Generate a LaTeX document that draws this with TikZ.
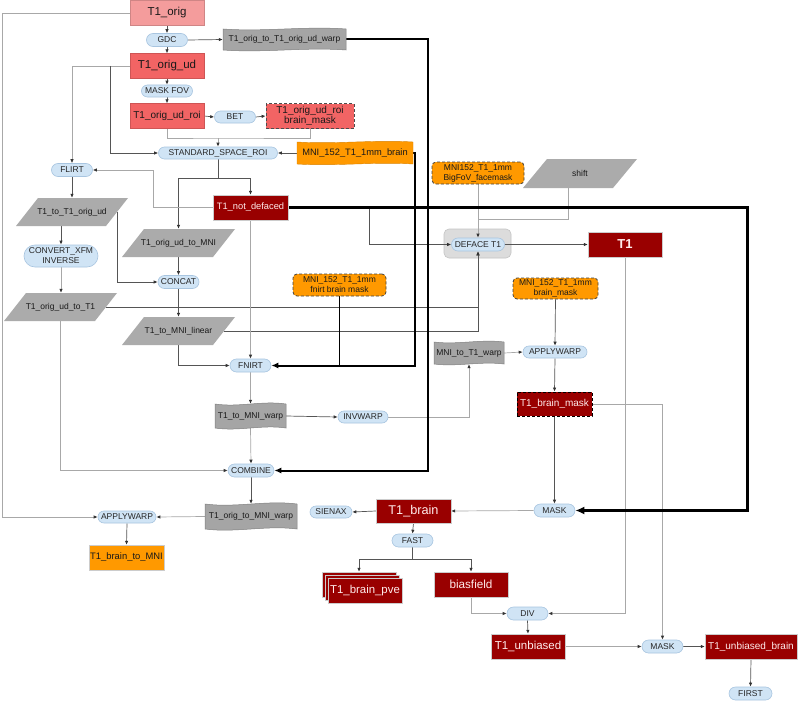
\documentclass[tikz,border=0pt]{standalone}
\usepackage{fontspec}
\setmainfont{Liberation Sans}
\usetikzlibrary{arrows.meta,shapes.misc,calc}
\definecolor{lred}{HTML}{F49C9C}
\definecolor{mred}{HTML}{F26464}
\definecolor{dred}{HTML}{990000}
\definecolor{orng}{HTML}{FF9900}
\definecolor{pgray}{HTML}{ABABAB}
\definecolor{tgray}{HTML}{A5A5A5}
\definecolor{tborder}{HTML}{808080}
\definecolor{pillfill}{HTML}{D0E4F5}
\definecolor{pillborder}{HTML}{A8C5E0}
\definecolor{lightline}{HTML}{A8A8A8}
\definecolor{darkline}{HTML}{555555}
\definecolor{boxfill}{HTML}{DCDCDC}
\definecolor{boxborder}{HTML}{C4C4C4}
\pgfdeclarelayer{bg}\pgfdeclarelayer{lines}\pgfsetlayers{bg,lines,main}
\newcommand\fsz[2]{\fontsize{#1}{#2}\selectfont}
\tikzset{
 txt/.style={inner sep=0pt, font=\fsz{8.5}{10}, align=center, text=black!90},
 pill/.style={rounded rectangle, fill=pillfill, draw=pillborder, line width=0.6pt, inner sep=0pt, minimum height=13, align=center, font=\fsz{8.5}{10}, text=black!85},
 box/.style={rectangle, inner sep=0pt, minimum width=74, minimum height=25, align=center, draw=black!20, line width=0.4pt},
 redA/.style={box, fill=lred, draw=lred!85!black, text=black!90},
 redB/.style={box, fill=mred, draw=mred!85!black, text=black!90},
 redC/.style={box, fill=dred, text=white!92!red},
 orbox/.style={box, fill=orng, text=black!90},
 dashbox/.style={rectangle, rounded corners=4pt, fill=orng, draw=black!75, dash pattern=on 3pt off 2pt, line width=0.8pt, inner sep=0pt, align=center, font=\fsz{8.5}{10}, text=black!90},
 lt/.style={draw=lightline, line width=0.7pt},
 dk/.style={draw=darkline, line width=0.7pt},
 arr/.style={-{Latex[length=4pt,width=3.4pt,color=black!80]}},
 thk/.style={draw=black, line width=2pt, -{Latex[length=7pt,width=6pt]}},
}
\newcommand\paranode[8]{%
  \fill[#8] (#2-#4/2,#3+#5/2) -- (#2+#4/2-#6,#3+#5/2) -- (#2+#4/2,#3-#5/2) -- (#2-#4/2+#6,#3-#5/2) -- cycle;
  \node[txt, minimum width=#4-#6, minimum height=#5] (#1) at (#2,#3) {#7};}
\newcommand\tapenode[8]{%
  \filldraw[#7] (#2-#4/2,#3-#5/2) .. controls (#2-#4/6,#3-#5/2+2*#8) and (#2+#4/6,#3-#5/2-2*#8) .. (#2+#4/2,#3-#5/2) -- (#2+#4/2,#3+#5/2) .. controls (#2+#4/6,#3+#5/2-2*#8) and (#2-#4/6,#3+#5/2+2*#8) .. (#2-#4/2,#3+#5/2) -- cycle;
  \node[txt, minimum width=#4, minimum height=#5] (#1) at (#2,#3) {#6};}
\begin{document}
\begin{tikzpicture}[x=1pt,y=-1pt]
\useasboundingbox (0,0) rectangle (798,701);
\begin{pgfonlayer}{bg}
\fill[white] (0,0) rectangle (798,701);
\node[rectangle, rounded corners=5pt, fill=boxfill, draw=boxborder, line width=0.6pt, minimum width=67, minimum height=29, inner sep=0pt] (defbox) at (477.5,243.5) {};
\end{pgfonlayer}
% nodes
\node[redA, font=\fsz{11.5}{13}] (t1orig) at (167,13) {T1\_orig};
\node[pill, minimum width=41] (gdc) at (167,40) {GDC};
\tapenode{w1}{284.5}{39.5}{123}{21}{T1\_orig\_to\_T1\_orig\_ud\_warp}{fill=tgray, draw=tborder, line width=0.5pt}{1.5}
\node[redB, font=\fsz{11.5}{13}] (t1origud) at (167,66) {T1\_orig\_ud};
\node[pill, minimum width=51, minimum height=12] (maskfov) at (167,91) {MASK FOV};
\node[redB, font=\fsz{10}{12}] (roi) at (167,116) {T1\_orig\_ud\_roi};
\node[pill, minimum width=41, minimum height=12] (bet) at (235,117) {BET};
\node[redB, minimum width=88, draw=black!70, dash pattern=on 3pt off 2pt, line width=0.8pt, font=\fsz{10}{10.5}] (roimask) at (310,116) {T1\_orig\_ud\_roi\\brain\_mask};
\node[pill, minimum width=119, minimum height=12] (ssr) at (218,153) {STANDARD\_SPACE\_ROI};
\tapenode{mnibrain}{355}{153}{116}{22}{\fsz{9.3}{11}MNI\_152\_T1\_1mm\_brain}{fill=orng, draw=orng!85!black, line width=0.4pt}{1.2}
\node[pill, minimum width=41] (flirt) at (72,170) {FLIRT};
\paranode{tto}{72}{212}{112}{28}{22}{T1\_to\_T1\_orig\_ud}{pgray}
\node[pill, minimum width=74, minimum height=22] (convert) at (61,256) {CONVERT\_XFM\\INVERSE};
\paranode{ott}{60.5}{307}{113}{28}{22}{T1\_orig\_ud\_to\_T1}{pgray}
\node[redC, minimum width=75, font=\fsz{9.3}{11}] (t1nd) at (250.5,207.5) {T1\_not\_defaced};
\paranode{tomni}{178.5}{243}{113}{28}{22}{T1\_orig\_ud\_to\_MNI}{pgray}
\node[pill, minimum width=41] (concat) at (178.5,282) {CONCAT};
\paranode{tml}{178.5}{331}{113}{28}{22}{T1\_to\_MNI\_linear}{pgray}
\node[dashbox, minimum width=93, minimum height=22] (fmask) at (339.5,285) {MNI\_152\_T1\_1mm\\fnirt brain mask};
\node[dashbox, minimum width=92, minimum height=22] (facemask) at (478,173) {MNI152\_T1\_1mm\\BigFoV\_facemask};
\paranode{shift}{580}{173.5}{114}{29}{24}{shift}{pgray}
\node[pill, minimum width=53] (deface) at (478,244.5) {DEFACE T1};
\node[redC, font=\bfseries\fsz{13}{15}] (t1) at (625,244.5) {T1};
\node[dashbox, minimum width=85, minimum height=21] (bmask) at (555.5,288.5) {MNI\_152\_T1\_1mm\\brain\_mask};
\node[pill, minimum width=64, minimum height=12] (aw2) at (555,352) {APPLYWARP};
\tapenode{m2t}{469}{353}{70}{22}{MNI\_to\_T1\_warp}{fill=tgray, draw=tborder, line width=0.5pt}{1.5}
\node[pill, minimum width=41] (fnirt) at (250.5,365.5) {FNIRT};
\tapenode{t2mw}{250.5}{416}{71}{24}{T1\_to\_MNI\_warp}{fill=tgray, draw=tborder, line width=0.5pt}{1.8}
\node[pill, minimum width=50, minimum height=12] (invwarp) at (363,417) {INVWARP};
\node[redC, minimum width=75, minimum height=24, draw=black, dash pattern=on 3pt off 2pt, line width=0.8pt, font=\fsz{10}{12}] (t1bm) at (554.5,404) {T1\_brain\_mask};
\node[pill, minimum width=46] (combine) at (251,470.5) {COMBINE};
\node[pill, minimum width=41] (mask1) at (554.5,510.5) {MASK};
\node[redC, minimum width=75, minimum height=24, font=\fsz{12.7}{14}] (t1brain) at (413.5,511) {T1\_brain};
\node[pill, minimum width=42, minimum height=12] (sienax) at (331,512) {SIENAX};
\tapenode{o2mw}{251}{516.5}{92}{25}{T1\_orig\_to\_MNI\_warp}{fill=tgray, draw=tborder, line width=0.5pt}{2}
\node[pill, minimum width=58, minimum height=12] (aw1) at (127,517) {APPLYWARP};
\node[orbox, minimum width=75, font=\fsz{9.4}{11}] (t1b2mni) at (126.5,557.5) {T1\_brain\_to\_MNI};
\node[pill, minimum width=41] (fast) at (412.5,540.5) {FAST};
\node[redC] (pveA) at (359,584.5) {};
\node[redC] (pveB) at (362,587.5) {};
\node[redC, font=\fsz{11.4}{13}] (pve) at (365,590.5) {T1\_brain\_pve};
\node[redC, font=\fsz{11.7}{13}] (bias) at (471,584.5) {biasfield};
\node[pill, minimum width=41] (div) at (527.5,613.5) {DIV};
\node[redC, font=\fsz{11.5}{13}] (t1unb) at (528,646.5) {T1\_unbiased};
\node[pill, minimum width=41] (mask2) at (662.5,646.5) {MASK};
\node[redC, minimum width=92, font=\fsz{10}{12}] (t1ub) at (751,646.5) {T1\_unbiased\_brain};
\node[pill, minimum width=43] (first) at (750.5,693.5) {FIRST};
% junctions
\coordinate (b1) at (110,66);
\coordinate (j2) at (218,138);
\coordinate (j3) at (218,178);
\coordinate (k1) at (415,365.5);
\coordinate (k2) at (153,207.5);
\coordinate (k3) at (747,510.5);
\coordinate (b2) at (369,207.5);
\coordinate (k4) at (2,517);
\coordinate (k5) at (428,470.5);
\coordinate (j1) at (478,219);
\coordinate (j4) at (412.5,559);
\begin{pgfonlayer}{lines}
\draw[dk,arr] (t1orig.south) -- (gdc.north);
\draw[dk,arr] (gdc.east) -- (w1.west);
\draw[dk,arr] (gdc.south) -- (t1origud.north);
\draw[lt,arr] (t1origud.west) -| (flirt.north);
\draw[dk,arr] (b1) |- (ssr.west);
\draw[dk,arr] (t1origud.south) -- (maskfov.north);
\draw[dk,arr] (maskfov.south) -- (roi.north);
\draw[dk,arr] (roi.east) -- (bet.west);
\draw[dk,arr] (bet.east) -- (roimask.west);
\draw[lt] (roi.south) |- (j2) -| (roimask.south);
\draw[lt,arr] (j2) -- (ssr.north);
\draw[dk,arr] (mnibrain.west) -- (ssr.east);
\draw[dk] (ssr.south) -- (j3);
\draw[dk,arr] (j3) -| (tomni.north);
\draw[dk,arr] (j3) -| (t1nd.north);
\draw[lt,arr] (t1nd.west) -- (k2) |- (flirt.east);
\draw[dk,arr] (flirt.south) -- (tto.north);
\draw[dk,arr] (convert.north |- tto.south) -- (convert.north);
\draw[dk,arr] (tto.east) |- (concat.west);
\draw[lt,arr] (convert.south) -- (convert.south |- ott.north);
\draw[dk,arr] (ott.east) -| (deface.south);
\draw[lt,arr] (ott.south) |- (combine.west);
\draw[dk,arr] (tomni.south) -- (concat.north);
\draw[dk,arr] (concat.south) -- (tml.north);
\draw[dk,arr] (tml.east) -| (deface.south);
\draw[dk,arr] (tml.south) |- (fnirt.west);
\draw[lt,arr] (t1nd.south) -- (fnirt.north);
\draw[dk,arr] (b2) |- (deface.west);
\draw[lt,arr] (facemask.south) -- (deface.north);
\draw[lt] ([xshift=-12pt]shift.south) |- (j1);
\draw[dk,arr] (deface.east) -- (t1.west);
\draw[lt,arr] (t1.south) |- (div.east);
\draw[dk,arr] (bmask.south) -- (aw2.north);
\draw[lt,arr] (m2t.east) -- (aw2.west);
\draw[dk,arr] (aw2.south) -- (t1bm.north);
\draw[lt,arr] (fnirt.south) -- (t2mw.north);
\draw[dk,arr] (t2mw.east) -- (invwarp.west);
\draw[lt,arr] (invwarp.east) -| (m2t.south);
\draw[lt,arr] (t2mw.south) -- (combine.north);
\draw[dk,arr] (combine.south) -- (o2mw.north);
\draw[lt,arr] (o2mw.west) -- (aw1.east);
\draw[lt,arr] (t1orig.west) -| (k4) -- (aw1.west);
\draw[dk,arr] (aw1.south) -- (t1b2mni.north);
\draw[dk,arr] (t1bm.south) -- (mask1.north);
\draw[lt,arr] (t1bm.east) -| (mask2.north);
\draw[lt,arr] (mask1.west) -- (t1brain.east);
\draw[dk,arr] (t1brain.west) -- (sienax.east);
\draw[dk,arr] (t1brain.south) -- (fast.north);
\draw[dk] (fast.south) -- (j4);
\draw[dk,arr] (j4) -| (pveA.north);
\draw[dk,arr] (j4) -| (bias.north);
\draw[lt,arr] (bias.south) |- (div.west);
\draw[dk,arr] (div.south) -- (t1unb.north);
\draw[lt,arr] (t1unb.east) -- (mask2.west);
\draw[dk,arr] (mask2.east) -- (t1ub.west);
\draw[dk,arr] (t1ub.south) -- (first.north);
% thick connectors
\draw[thk] (w1.east) -| (k5) -- (combine.east);
\draw[thk] (mnibrain.east) -| (k1) -- (fnirt.east);
\draw[draw=black, line width=1.1pt] (fmask.south) -- (fmask.south |- fnirt.east);
\draw[thk, line width=3pt, -{Latex[length=9pt,width=8pt]}] (t1nd.east) -| (k3) -- (mask1.east);
\end{pgfonlayer}
\end{tikzpicture}
\end{document}
